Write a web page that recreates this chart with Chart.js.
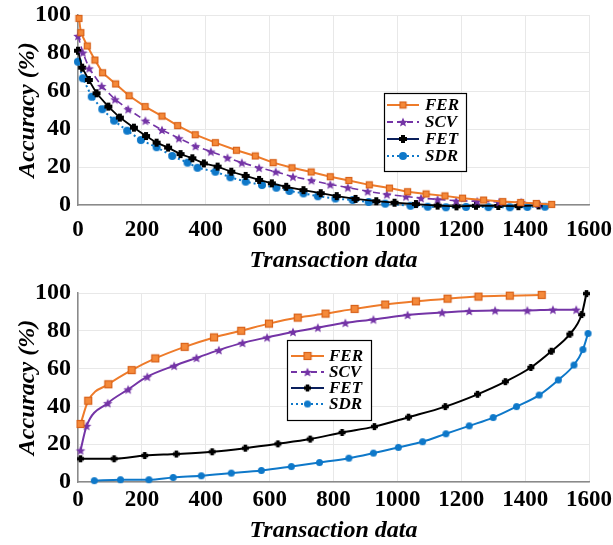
<!DOCTYPE html>
<html>
<head>
<meta charset="utf-8">
<script src="https://cdn.jsdelivr.net/npm/chart.js@4.4.1/dist/chart.umd.min.js"></script>
<style>
body { margin: 0; background: #fff; }
canvas { display: block; }
</style>
</head>
<body>
<canvas id="chartTop" width="613" height="278"></canvas>
<canvas id="chartBottom" width="613" height="267"></canvas>
<script>
// values
const seriesNames = ['FER', 'SCV', 'FET', 'SDR'];
const xTicks = [0, 200, 400, 600, 800, 1000, 1200, 1400, 1600];
const yTicks = [0, 20, 40, 60, 80, 100];

// top panel
const topFerX = [3, 9, 29, 53, 77, 118, 160, 210, 263, 312, 367, 430, 496, 555, 611, 670, 730, 790, 848, 912, 975, 1032, 1090, 1149, 1204, 1270, 1330, 1386, 1435, 1483];
const topFerY = [98.2, 90.7, 83.7, 76.3, 69.6, 63.7, 57.5, 51.8, 46.8, 41.8, 37, 32.8, 28.8, 25.8, 22.3, 19.6, 17.4, 14.9, 12.9, 10.6, 8.9, 7, 5.8, 4.8, 3.6, 2.6, 1.8, 1.3, 0.8, 0.3];
const topScvX = [0, 15, 35, 74, 116, 157, 211, 263, 316, 368, 416, 468, 513, 567, 619, 673, 731, 790, 845, 907, 967, 1027, 1074, 1126, 1184, 1250, 1319, 1388, 1443];
const topScvY = [89, 80.2, 71.9, 62.6, 55.6, 50.4, 44.4, 39.5, 35.1, 31, 28.1, 24.9, 22.3, 19.6, 17.5, 14.9, 13, 10.8, 9.2, 7.2, 5.6, 4.5, 3.6, 3, 2.2, 2, 1.6, 1.5, 0.5];
const topFetX = [0, 13, 34, 58, 95, 131, 175, 213, 246, 282, 321, 358, 394, 437, 480, 525, 567, 607, 652, 706, 760, 810, 869, 934, 991, 1058, 1126, 1185, 1246, 1316, 1379, 1442];
const topFetY = [81.2, 72.3, 65.8, 58.8, 51.8, 46, 40.7, 36.3, 32.8, 30.2, 26.8, 24.6, 21.9, 20.2, 17.5, 15.3, 13.2, 11.4, 9.6, 7.8, 6.2, 4.7, 3.2, 2, 1.2, 0.5, -0.3, -0.7, -0.4, -0.5, -0.6, -0.2];
const topSdrX = [0, 15, 43, 76, 113, 154, 197, 246, 295, 343, 374, 430, 477, 525, 576, 621, 662, 706, 751, 806, 860, 910, 962, 1041, 1095, 1152, 1215, 1285, 1352, 1407, 1462];
const topSdrY = [75.4, 66.7, 57, 50.4, 44.4, 39.1, 34.2, 30.4, 25.8, 22.3, 19.6, 17.5, 14.6, 12.3, 10.5, 9.1, 7.4, 6.1, 4.6, 3.4, 2.6, 1.6, 0.7, -0.4, -0.9, -1.2, -1, -1.1, -1.2, -1, -0.9];

// bottom panel
const botFerX = [8, 32, 95, 168, 242, 334, 426, 511, 598, 688, 775, 866, 962, 1058, 1157, 1254, 1352, 1452];
const botFerY = [30.7, 43, 51.7, 59.2, 65.4, 71.5, 76.5, 80, 83.8, 87, 89.1, 91.6, 93.9, 95.6, 97, 98.1, 98.6, 99];
const botScvX = [8, 27, 93, 157, 217, 301, 371, 441, 515, 592, 673, 751, 837, 925, 1032, 1140, 1225, 1306, 1407, 1487, 1560];
const botScvY = [16.7, 29.7, 41.7, 49, 55.7, 61.5, 65.7, 69.8, 73.6, 76.5, 79.4, 81.7, 84.2, 86, 88.4, 89.7, 90.5, 90.8, 90.8, 91.2, 91.2];
const botFetX = [8, 113, 209, 308, 420, 524, 626, 727, 827, 928, 1035, 1150, 1251, 1338, 1418, 1482, 1540, 1577, 1592];
const botFetY = [12.3, 12.3, 14, 14.8, 16, 17.9, 20.2, 22.7, 26.2, 29.3, 34.3, 39.9, 46.4, 53.1, 60.6, 69.2, 78.2, 88.6, 99.7];
const botSdrX = [51, 133, 222, 298, 386, 480, 574, 668, 756, 848, 925, 1003, 1079, 1152, 1225, 1300, 1373, 1444, 1504, 1553, 1581, 1597];
const botSdrY = [0.7, 1.2, 1.2, 2.4, 3.3, 4.7, 6.1, 8.2, 10.3, 12.6, 15.3, 18.3, 21.3, 25.5, 29.7, 34.1, 39.9, 46, 54, 61.9, 70.1, 78.6];

const ORANGE = '#EE7B2A';
const PURPLE = '#7434A6';
const BLUE = '#0E78C9';
const NAVY = '#0A1F5C';

function pts(xs, ys) {
    return xs.map((x, i) => ({ x: x, y: ys[i] }));
}

// marker images
function marker(kind, size) {
    const c = document.createElement('canvas');
    c.width = size + 2;
    c.height = size + 2;
    const g = c.getContext('2d');
    const m = (size + 2) / 2;
    const r = size / 2;
    if (kind === 'square') {
        g.fillStyle = '#F58A3A';
        g.fillRect(m - r, m - r, size, size);
        g.strokeStyle = '#D8621A';
        g.lineWidth = 1.2;
        g.strokeRect(m - r + 0.5, m - r + 0.5, size - 1, size - 1);
    } else if (kind === 'star') {
        g.fillStyle = PURPLE;
        g.beginPath();
        for (let i = 0; i < 10; i++) {
            const rr = i % 2 === 0 ? r : r * 0.45;
            const a = -Math.PI / 2 + i * Math.PI / 5;
            const px = m + rr * Math.cos(a);
            const py = m + 0.5 + rr * Math.sin(a);
            if (i === 0) g.moveTo(px, py); else g.lineTo(px, py);
        }
        g.closePath();
        g.fill();
    } else if (kind === 'plus') {
        g.fillStyle = '#000';
        const t = size * 0.5;
        g.fillRect(m - t / 2, m - r, t, size);
        g.fillRect(m - r, m - t / 2, size, t);
    } else {
        g.fillStyle = BLUE;
        g.beginPath();
        g.arc(m, m, r, 0, Math.PI * 2);
        g.fill();
    }
    return c;
}

const boxLegend = {
    id: 'boxLegend',
    afterDraw(chart, args, opts) {
        const ctx = chart.ctx;
        ctx.save();
        ctx.fillStyle = '#fff';
        ctx.fillRect(opts.x, opts.y, opts.w, opts.h);
        ctx.strokeStyle = '#000';
        ctx.lineWidth = 1.2;
        ctx.strokeRect(opts.x + 0.5, opts.y + 0.5, opts.w, opts.h);
        chart.data.datasets.forEach((ds, i) => {
            const cy = opts.y + opts.firstRow + i * opts.rowGap;
            const x0 = opts.x + opts.lineStart;
            const x1 = opts.x + opts.lineEnd;
            ctx.strokeStyle = ds.legendColor || ds.borderColor;
            ctx.lineWidth = 2;
            ctx.setLineDash(ds.legendDash || []);
            ctx.beginPath();
            ctx.moveTo(x0, cy);
            ctx.lineTo(x1, cy);
            ctx.stroke();
            ctx.setLineDash([]);
            const img = ds.pointStyle;
            ctx.drawImage(img, (x0 + x1) / 2 - img.width / 2, cy - img.height / 2);
            ctx.fillStyle = '#000';
            ctx.font = 'italic bold 17px "Liberation Serif"';
            ctx.textBaseline = 'middle';
            ctx.textAlign = 'left';
            ctx.fillText(ds.label, opts.x + opts.textStart, cy + 1);
        });
        ctx.restore();
    }
};

function makeScales(xHeight, xTickPad, xTitlePad) {
    return {
        x: {
            type: 'linear',
            min: 0,
            max: 1600,
            afterBuildTicks: (s) => { s.ticks = xTicks.map(v => ({ value: v })); },
            afterFit: (s) => { s.height = xHeight; s.paddingLeft = 0; s.paddingRight = 0; },
            grid: { color: '#e8e8e8', lineWidth: 1, drawTicks: false },
            border: { color: '#8a8a8a', width: 1.5 },
            ticks: {
                padding: xTickPad,
                color: '#000',
                callback: (v) => String(v),
                font: { family: '"Liberation Serif"', size: 23, weight: 'bold' }
            },
            title: {
                display: true,
                text: 'Transaction data',
                color: '#000',
                padding: { top: 0, bottom: xTitlePad },
                font: { family: '"Liberation Serif"', size: 24, weight: 'bold', style: 'italic', lineHeight: 1 }
            }
        },
        y: {
            min: 0,
            max: 100,
            afterBuildTicks: (s) => { s.ticks = yTicks.map(v => ({ value: v })); },
            afterFit: (s) => { s.width = 78; s.paddingTop = 0; s.paddingBottom = 0; },
            grid: { color: '#e8e8e8', lineWidth: 1, drawTicks: false },
            border: { color: '#8a8a8a', width: 1.5 },
            ticks: {
                padding: 7,
                color: '#000',
                callback: (v) => String(v),
                font: { family: '"Liberation Serif"', size: 24, weight: 'bold' }
            },
            title: {
                display: true,
                text: 'Accuracy (%)',
                color: '#000',
                padding: { top: 16, bottom: 0 },
                font: { family: '"Liberation Serif"', size: 24, weight: 'bold', style: 'italic', lineHeight: 1 }
            }
        }
    };
}

function ds(label, data, color, img, dash, width, extra) {
    return Object.assign({
        label: label,
        data: data,
        borderColor: color,
        backgroundColor: color,
        borderWidth: width,
        borderDash: dash,
        pointStyle: img,
        pointRadius: 5,
        pointHoverRadius: 5,
        tension: 0,
        clip: false
    }, extra || {});
}

new Chart(document.getElementById('chartTop'), {
    type: 'line',
    data: {
        datasets: [
            ds(seriesNames[0], pts(topFerX, topFerY), ORANGE, marker('square', 7), [], 2),
            ds(seriesNames[1], pts(topScvX, topScvY), PURPLE, marker('star', 10), [7, 4], 1.6, { legendDash: [6, 4] }),
            ds(seriesNames[2], pts(topFetX, topFetY), '#000', marker('plus', 8), [], 1.8, { legendColor: NAVY }),
            ds(seriesNames[3], pts(topSdrX, topSdrY), BLUE, marker('circle', 8), [2, 3], 2, { legendDash: [2, 3] })
        ]
    },
    options: {
        responsive: false,
        animation: false,
        layout: { padding: { top: 15, right: 24, bottom: 0, left: 0 } },
        scales: makeScales(73, 11, 5),
        plugins: {
            legend: { display: false },
            tooltip: { enabled: false },
            boxLegend: { x: 384, y: 93, w: 82, h: 78, firstRow: 12, rowGap: 17, lineStart: 3, lineEnd: 35, textStart: 41 }
        }
    },
    plugins: [boxLegend]
});

new Chart(document.getElementById('chartBottom'), {
    type: 'line',
    data: {
        datasets: [
            ds(seriesNames[0], pts(botFerX, botFerY), ORANGE, marker('square', 8), [], 2, { cubicInterpolationMode: 'monotone' }),
            ds(seriesNames[1], pts(botScvX, botScvY), PURPLE, marker('star', 10), [], 2, { cubicInterpolationMode: 'monotone', legendDash: [6, 4] }),
            ds(seriesNames[2], pts(botFetX, botFetY), '#000', marker('plus', 7), [], 2, { cubicInterpolationMode: 'monotone', legendColor: NAVY }),
            ds(seriesNames[3], pts(botSdrX, botSdrY), BLUE, marker('circle', 7), [], 2, { cubicInterpolationMode: 'monotone', legendDash: [2, 3] })
        ]
    },
    options: {
        responsive: false,
        animation: false,
        layout: { padding: { top: 15, right: 24, bottom: 0, left: 0 } },
        scales: makeScales(63, 4, 2),
        plugins: {
            legend: { display: false },
            tooltip: { enabled: false },
            boxLegend: { x: 287, y: 62, w: 84, h: 80, firstRow: 16, rowGap: 16, lineStart: 4, lineEnd: 37, textStart: 42 }
        }
    },
    plugins: [boxLegend]
});
</script>
</body>
</html>
